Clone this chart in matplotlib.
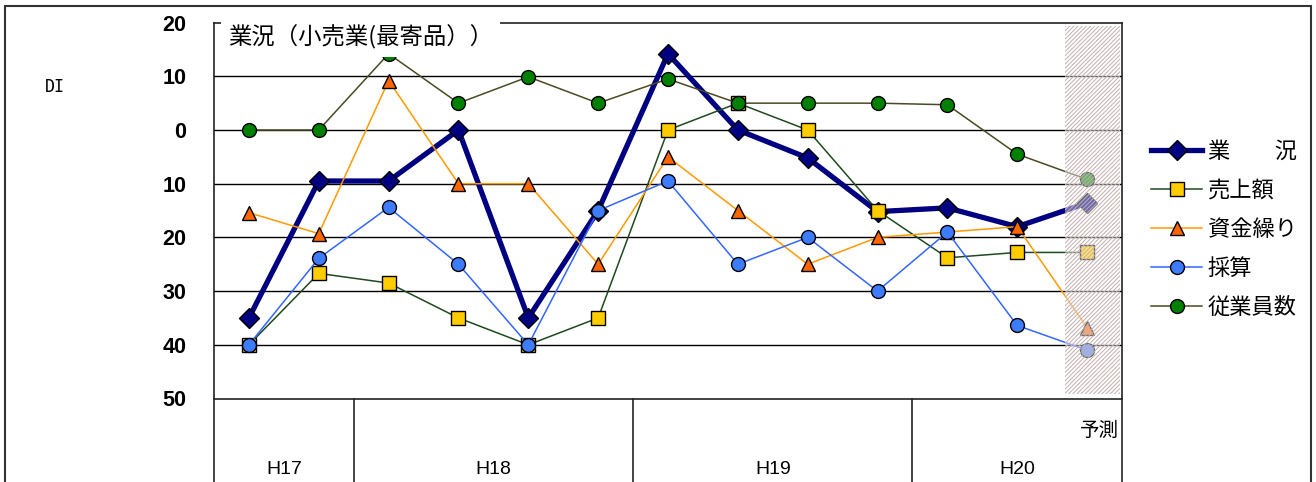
import numpy as np
import matplotlib
matplotlib.use("Agg")
import matplotlib.pyplot as plt
from matplotlib.patches import Rectangle

plt.rcParams['font.family'] = ['Noto Sans CJK JP', 'DejaVu Sans']
plt.rcParams['hatch.linewidth'] = 0.7

# data (13 periods, last one is forecast)
gyokyo = [-35, -9.5, -9.5, 0, -35, -15, 14.2, 0, -5.2, -15.2, -14.5, -18, -13.6]
uriage = [-40, -26.7, -28.5, -35, -40, -35, 0, 5, 0, -15, -23.8, -22.8, -22.8]
shikin = [-15.4, -19.3, 9.2, -10, -10, -25, -5, -15, -25, -20, -19, -18, -36.8]
saisan = [-40, -23.9, -14.4, -25, -40, -15, -9.5, -25, -20, -30, -19, -36.4, -41]
jugyoin = [0, 0, 14.2, 5, 9.9, 5, 9.5, 5, 5, 5, 4.7, -4.5, -9.2]

groups = ["H17", "H18", "H19", "H20"]
group_sizes = [2, 4, 4, 3]
series_labels = ["業　　況", "売上額", "資金繰り", "採算", "従業員数"]
title = "業況（小売業(最寄品））"

x = np.arange(len(gyokyo))

fig = plt.figure(figsize=(13.16, 4.82), dpi=100)
ax = fig.add_axes([214/1316, (482-398.5)/482, 908/1316, 375.9/482])

styles = [
    dict(color="#000080", lw=3.8, marker="D", ms=10, mfc="#000080", mec="black", mew=1),
    dict(color="#1e4a1e", lw=1.1, marker="s", ms=9.5, mfc="#ffcc00", mec="black", mew=1),
    dict(color="#ff9900", lw=1.1, marker="^", ms=10.5, mfc="#ff6600", mec="black", mew=1),
    dict(color="#3366ff", lw=1.1, marker="o", ms=10, mfc="#3d7bff", mec="black", mew=1),
    dict(color="#4a4a22", lw=1.1, marker="o", ms=10, mfc="#008000", mec="black", mew=1),
]
series = [gyokyo, uriage, shikin, saisan, jugyoin]
handles = []
for vals, st, lab in zip(series, styles, series_labels):
    h, = ax.plot(x, vals, label=lab, zorder=3, clip_on=False, **st)
    handles.append(h)

ax.set_xlim(-0.5, len(x) - 0.5)
ax.set_ylim(-50, 20)
ax.set_yticks(np.arange(-50, 21, 10))
ax.set_yticklabels([str(abs(v)) for v in range(-50, 21, 10)],
                   fontfamily="Liberation Sans", fontweight="bold", fontsize=15.5)
ax.tick_params(axis="y", length=0, pad=20)
ax.set_xticks([])
for v in range(-40, 20, 10):
    ax.axhline(v, color="black", lw=1, zorder=1)
for sp in ax.spines.values():
    sp.set_linewidth(1.2)
    sp.set_color("#222222")

# forecast shaded area
ax.add_patch(Rectangle((11.68, -49.2), 0.79, 68.6, facecolor=(1, 1, 1, 0.42),
                       edgecolor="#c4aeae", hatch="////////", lw=0, zorder=5))

# title
ax.text(0.0154, 0.96, title, transform=ax.transAxes, fontsize=16.8,
        va="center", ha="left", zorder=6,
        bbox=dict(facecolor="white", edgecolor="none", pad=5))

# category axis below
trans = ax.get_xaxis_transform()
bounds = np.concatenate([[0], np.cumsum(group_sizes)]) - 0.5
for b in bounds:
    ax.plot([b, b], [0, -0.23], transform=trans, color="#222222", lw=1.2, clip_on=False)
for g, lo, hi in zip(groups, bounds[:-1], bounds[1:]):
    ax.text((lo + hi) / 2, -0.19, g, transform=trans, ha="center", va="center",
            fontfamily="Liberation Sans", fontsize=14)
ax.text(x[-1] + 0.45, -0.085, "予測", transform=trans, ha="right", va="center", fontsize=14)

# DI label
fig.text(45/1316, 1 - 87/482, "DI", fontfamily="DejaVu Sans Mono", fontsize=12,
         va="center", ha="left")

# legend
fig.legend(handles, series_labels, loc="upper left", bbox_to_anchor=(1151/1316, 1 - 140/482),
           frameon=False, handlelength=2.3, handletextpad=0.25, labelspacing=0.72,
           borderpad=0, borderaxespad=0, prop={"size": 16})

# outer frame
fig.patches.append(Rectangle((5/1316, -0.1), 1306/1316, 1.1 - 6/482, transform=fig.transFigure,
                             fill=False, edgecolor="#333333", lw=1.5))

fig.savefig("out.png", dpi=100)
